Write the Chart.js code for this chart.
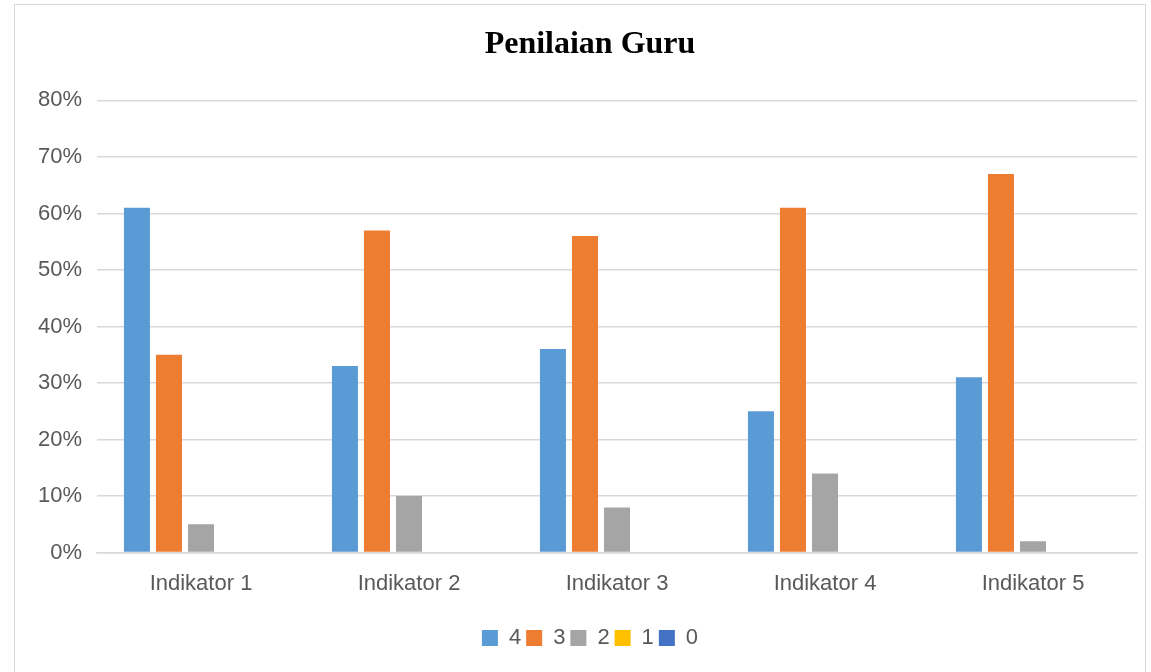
<!DOCTYPE html>
<html>
<head>
<meta charset="utf-8">
<script src="https://cdn.jsdelivr.net/npm/chart.js@4"></script>
<style>
  html, body { margin: 0; padding: 0; background: #fff; overflow: hidden; }
  #wrap { position: relative; width: 1151px; height: 672px; overflow: hidden; }
  #frame { position: absolute; left: 14px; top: 4px; width: 1132px; height: 700px; border: 1px solid #d9d9d9; box-sizing: border-box; }
  canvas { position: absolute; left: 0; top: 0; }
</style>
</head>
<body>
<div id="wrap">
  <div id="frame"></div>
  <canvas id="myChart" width="1200" height="672"></canvas>
</div>
<script>
const categories = ['Indikator 1', 'Indikator 2', 'Indikator 3', 'Indikator 4', 'Indikator 5'];
const seriesNames = ['4', '3', '2', '1', '0'];
const skor4 = [61, 33, 36, 25, 31];
const skor3 = [35, 57, 56, 61, 67];
const skor2 = [5, 10, 8, 14, 2];
const skor1 = [0, 0, 0, 0, 0];
const skor0 = [0, 0, 0, 0, 0];
const colors = ['#5B9BD5', '#ED7D31', '#A5A5A5', '#FFC000', '#4472C4'];

const allSeries = [skor4, skor3, skor2, skor1, skor0];
const labelFont = { family: '"Liberation Sans", Arial, sans-serif', size: 22 };

const ctx = document.getElementById('myChart').getContext('2d');
const myChart = new Chart(ctx, {
  type: 'bar',
  data: {
    labels: categories,
    datasets: allSeries.map((d, i) => ({
      label: seriesNames[i],
      data: d,
      backgroundColor: colors[i],
      borderWidth: 0,
      categoryPercentage: 0.77,
      barPercentage: 0.8125
    }))
  },
  options: {
    responsive: false,
    animation: false,
    // canvas is wider than the page so title + legend centre near x=590
    layout: { padding: { left: 0, right: 20, top: 22, bottom: 13 } },
    plugins: {
      title: {
        display: true,
        text: 'Penilaian Guru',
        color: '#000',
        font: { family: '"Liberation Serif", "Times New Roman", serif', size: 32, weight: 'bold' },
        padding: { top: 4, bottom: 36 }
      },
      legend: {
        position: 'bottom',
        labels: {
          boxWidth: 16,
          boxHeight: 16,
          color: '#595959',
          font: labelFont,
          padding: 5
        }
      },
      tooltip: { enabled: false }
    },
    scales: {
      x: {
        grid: { display: false, drawTicks: false },
        border: { color: '#d9d9d9', width: 1.5 },
        afterFit: (scale) => { scale.height += 7; },
        ticks: {
          color: '#595959',
          font: labelFont,
          padding: 18
        }
      },
      y: {
        min: 0,
        max: 80,
        afterFit: (scale) => { scale.width = 97; },
        grid: { color: '#d9d9d9', lineWidth: 1.5, drawTicks: false },
        border: { display: false },
        ticks: {
          stepSize: 10,
          color: '#595959',
          font: labelFont,
          padding: 15,
          callback: (v) => v + '%'
        }
      },
      spacer: {
        type: 'linear',
        position: 'right',
        grid: { display: false, drawTicks: false },
        border: { display: false },
        ticks: { display: false },
        afterFit: (scale) => { scale.width = 43; }
      }
    }
  }
});
</script>
</body>
</html>
